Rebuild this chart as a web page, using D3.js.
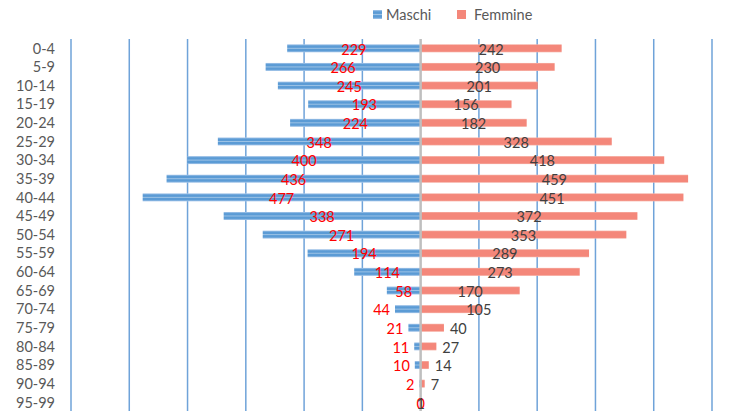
<!DOCTYPE html>
<html>
<head>
<meta charset="utf-8">
<script src="https://cdn.jsdelivr.net/npm/d3@7"></script>
<style>
  body { margin: 0; background: #fff; }
  text { font-family: Lato, "Open Sans", sans-serif; }
</style>
</head>
<body>
<div id="chart"></div>
<script>
var ageGroups = ["0-4","5-9","10-14","15-19","20-24","25-29","30-34","35-39","40-44","45-49",
  "50-54","55-59","60-64","65-69","70-74","75-79","80-84","85-89","90-94","95-99"];
var maschi = [229,266,245,193,224,348,400,436,477,338,271,194,114,58,44,21,11,10,2,0];
var femmine = [242,230,201,156,182,328,418,459,451,372,353,289,273,170,105,40,27,14,7,1];
var gridTicks = [-600,-500,-400,-300,-200,-100,100,200,300,400,500];

var svgWidth = 756;
var svgHeight = 411;

var svg = d3.select("#chart")
  .append("svg")
  .attr("width", svgWidth)
  .attr("height", svgHeight);

var defs = svg.append("defs");
var blueGrad = defs.append("linearGradient")
  .attr("id", "blueBar")
  .attr("x1", 0).attr("y1", 0).attr("x2", 0).attr("y2", 1);
[[0, "#a9c8ea"], [0.2, "#5b9bd5"], [0.38, "#5b9bd5"], [0.5, "#9dc3e6"], [0.62, "#5b9bd5"], [0.8, "#5b9bd5"], [1, "#a9c8ea"]]
  .forEach(function(s) {
    blueGrad.append("stop").attr("offset", s[0]).attr("stop-color", s[1]);
  });
var pinkGrad = defs.append("linearGradient")
  .attr("id", "pinkBar")
  .attr("x1", 0).attr("y1", 0).attr("x2", 0).attr("y2", 1);
[[0, "#f6b3a8"], [0.15, "#f4877a"], [0.85, "#f4877a"], [1, "#f6b3a8"]]
  .forEach(function(s) {
    pinkGrad.append("stop").attr("offset", s[0]).attr("stop-color", s[1]);
  });

var xScale = d3.scaleLinear()
  .domain([-600, 500])
  .range([71, 712]);

var yScale = d3.scaleBand()
  .domain(ageGroups)
  .range([39, 411.6]);

var barH = 8;

// vertical gridlines
svg.append("g")
  .selectAll("line")
  .data(gridTicks)
  .enter()
  .append("line")
  .attr("x1", d => xScale(d))
  .attr("x2", d => xScale(d))
  .attr("y1", 39)
  .attr("y2", svgHeight)
  .attr("stroke", "#6fa3d9")
  .attr("stroke-width", 1.5);

var rows = ageGroups.map(function(a, i) {
  return { age: a, m: maschi[i], f: femmine[i] };
});

// male bars (left)
svg.append("g")
  .selectAll("rect")
  .data(rows)
  .enter()
  .append("rect")
  .attr("x", d => xScale(-d.m))
  .attr("y", d => yScale(d.age) + yScale.bandwidth() / 2 - barH / 2)
  .attr("width", d => xScale(0) - xScale(-d.m))
  .attr("height", barH)
  .attr("fill", "url(#blueBar)");

// female bars (right)
svg.append("g")
  .selectAll("rect")
  .data(rows)
  .enter()
  .append("rect")
  .attr("x", xScale(0))
  .attr("y", d => yScale(d.age) + yScale.bandwidth() / 2 - barH / 2)
  .attr("width", d => xScale(d.f) - xScale(0))
  .attr("height", barH)
  .attr("fill", "url(#pinkBar)");

// center axis
svg.append("line")
  .attr("x1", xScale(0))
  .attr("x2", xScale(0))
  .attr("y1", 39)
  .attr("y2", svgHeight)
  .attr("stroke", "#bfbfbf")
  .attr("stroke-width", 2.5);

// category labels
svg.append("g")
  .selectAll("text")
  .data(ageGroups)
  .enter()
  .append("text")
  .attr("x", 55)
  .attr("y", d => yScale(d) + yScale.bandwidth() / 2)
  .attr("dy", "0.36em")
  .attr("text-anchor", "end")
  .attr("font-size", "14.5px")
  .attr("fill", "#595959")
  .text(d => d);

// male labels: centred in bar, or outside when too short
svg.append("g")
  .selectAll("text")
  .data(rows)
  .enter()
  .append("text")
  .attr("x", function(d) {
    if (d.m === 0) return xScale(0);
    if (d.m < 50) return xScale(-d.m) - 5;
    return (xScale(-d.m) + xScale(0)) / 2;
  })
  .attr("y", d => yScale(d.age) + yScale.bandwidth() / 2 + 1)
  .attr("dy", "0.36em")
  .attr("text-anchor", d => (d.m > 0 && d.m < 50) ? "end" : "middle")
  .attr("font-size", "14.5px")
  .attr("fill", "#ff0000")
  .text(d => d.m);

// female labels
svg.append("g")
  .selectAll("text")
  .data(rows)
  .enter()
  .append("text")
  .attr("x", function(d) {
    if (d.f < 5) return xScale(0);
    if (d.f < 50) return xScale(d.f) + 6;
    if (d.f < 120) return xScale(d.f) - 3;
    return (xScale(0) + xScale(d.f)) / 2;
  })
  .attr("y", d => yScale(d.age) + yScale.bandwidth() / 2 + 1)
  .attr("dy", "0.36em")
  .attr("text-anchor", function(d) {
    if (d.f < 5) return "middle";
    if (d.f < 50) return "start";
    return "middle";
  })
  .attr("font-size", "14.5px")
  .attr("fill", "#404040")
  .text(d => d.f);

// legend
var legend = svg.append("g");
legend.append("rect")
  .attr("x", 373).attr("y", 10).attr("width", 9).attr("height", 9)
  .attr("fill", "url(#blueBar)");
legend.append("text")
  .attr("x", 386).attr("y", 15).attr("dy", "0.36em")
  .attr("font-size", "14.5px").attr("fill", "#595959")
  .text("Maschi");
legend.append("rect")
  .attr("x", 457).attr("y", 10).attr("width", 9).attr("height", 9)
  .attr("fill", "#f4877a");
legend.append("text")
  .attr("x", 474).attr("y", 15).attr("dy", "0.36em")
  .attr("font-size", "14.5px").attr("fill", "#595959")
  .text("Femmine");
</script>
</body>
</html>
